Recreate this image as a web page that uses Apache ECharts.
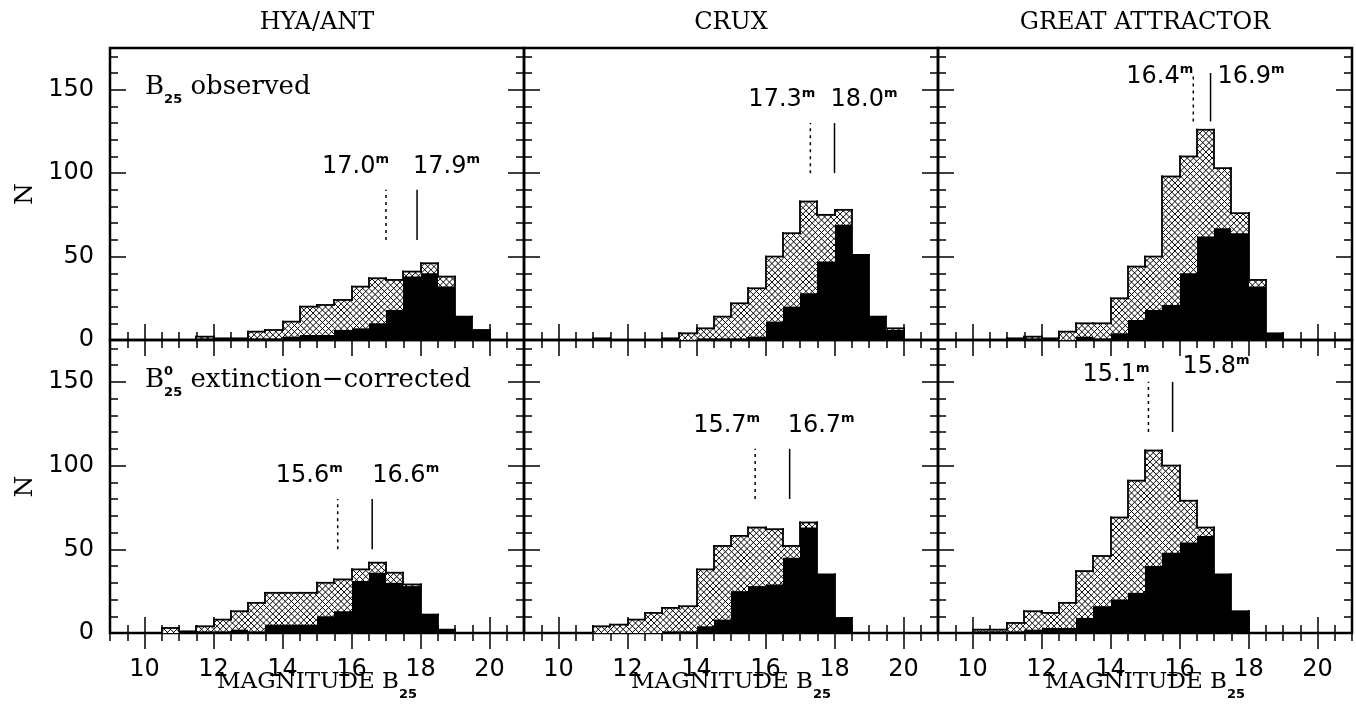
<!DOCTYPE html>
<html><head><meta charset="utf-8">
<script src="https://cdn.jsdelivr.net/npm/echarts@6/dist/echarts.min.js"></script>
<style>html,body{margin:0;padding:0;background:#fff}#c{width:1356px;height:704px}</style>
</head><body><div id="c"></div>
<script>
// ---------------- data ----------------
const binStarts = [9.0,9.5,10.0,10.5,11.0,11.5,12.0,12.5,13.0,13.5,14.0,14.5,15.0,15.5,16.0,16.5,17.0,17.5,18.0,18.5,19.0,19.5,20.0,20.5];
const binWidth = 0.5;
const columns = ['HYA/ANT', 'CRUX', 'GREAT ATTRACTOR'];
const xTickLabels = [10, 12, 14, 16, 18, 20];
const yTickLabels = [0, 50, 100, 150];

// observed B25 (all galaxies = hatched, subset = black)
const hyaObsAll    = [0,0,0,0,0,2,1,1,5,6,11,20,21,24,32,37,36,41,46,38,14,6,0,0];
const hyaObsBlack  = [0,0,0,0,0,1,1,1,1,1,2,3,3,6,7,10,18,38,40,32,14,6,0,0];
const cruxObsAll   = [0,0,0,0,1,0,0,0,1,4,7,14,22,31,50,64,83,75,78,51,14,7,0,0];
const cruxObsBlack = [0,0,0,0,1,0,0,0,1,0,1,1,1,2,11,20,28,47,69,51,14,6,0,0];
const gaObsAll     = [0,0,0,0,1,2,1,5,10,10,25,44,50,98,110,126,103,76,36,4,0,0,0,0];
const gaObsBlack   = [0,0,0,0,1,1,1,0,2,1,4,12,18,21,40,62,67,64,32,4,0,0,0,0];
// extinction-corrected B25^0
const hyaCorAll    = [0,0,0,3,1,4,8,13,18,24,24,24,30,32,38,42,36,29,11,2,0,0,0,0];
const hyaCorBlack  = [0,0,0,0,1,1,1,2,1,5,5,5,10,13,31,36,30,28,11,2,0,0,0,0];
const cruxCorAll   = [0,0,0,0,4,5,8,12,15,16,38,52,58,63,62,52,66,35,9,0,0,0,0,0];
const cruxCorBlack = [0,0,0,0,0,0,0,0,1,1,4,8,25,28,29,45,63,35,9,0,0,0,0,0];
const gaCorAll     = [0,0,2,2,6,13,12,18,37,46,69,91,109,100,79,63,35,13,0,0,0,0,0,0];
const gaCorBlack   = [0,0,1,1,1,2,3,3,9,16,20,24,40,48,54,58,35,13,0,0,0,0,0,0];
// medians [dotted (all), solid (subset)]
const hyaObsMed  = [17.0, 17.9];
const cruxObsMed = [17.3, 18.0];
const gaObsMed   = [16.4, 16.9];
const hyaCorMed  = [15.6, 16.6];
const cruxCorMed = [15.7, 16.7];
const gaCorMed   = [15.1, 15.8];

const panels = [
  {all: hyaObsAll,  black: hyaObsBlack,  med: hyaObsMed},
  {all: cruxObsAll, black: cruxObsBlack, med: cruxObsMed},
  {all: gaObsAll,   black: gaObsBlack,   med: gaObsMed},
  {all: hyaCorAll,  black: hyaCorBlack,  med: hyaCorMed},
  {all: cruxCorAll, black: cruxCorBlack, med: cruxCorMed},
  {all: gaCorAll,   black: gaCorBlack,   med: gaCorMed}
];

// ---------------- layout ----------------
const colLeft = [110, 524, 938], colWidth = 414;
const rowTop = [48, 340], rowHeight = [292, 293];
const markerLayout = [
  {line: [60, 90],   ly: [104, 104], dx: [3, -4]},
  {line: [100, 130], ly: [144, 144], dx: [5, -4]},
  {line: [131, 160], ly: [158, 158], dx: [0, 7]},
  {line: [50, 80],   ly: [94, 94],   dx: [5, 0]},
  {line: [80, 110],  ly: [124, 124], dx: [5, -2]},
  {line: [120, 150], ly: [154, 159], dx: [1, 10]}
];
const HATCH = 6.2;

function hatchSegments(x0, y0, x1, y1, d) {
  const segs = [];
  for (let c = Math.ceil((x0 + y0) / d) * d; c <= x1 + y1; c += d) {
    const xa = Math.max(x0, c - y1), xb = Math.min(x1, c - y0);
    if (xb > xa) segs.push([xa, c - xa, xb, c - xb]);
  }
  for (let c = Math.ceil((x0 - y1) / d) * d; c <= x1 - y0; c += d) {
    const xa = Math.max(x0, y0 + c), xb = Math.min(x1, y1 + c);
    if (xb > xa) segs.push([xa, xa - c, xb, xb - c]);
  }
  return segs;
}

const SERIF = 'DejaVu Serif', SANS = 'DejaVu Sans';
const subRich = {
  a: {fontFamily: SERIF, fontSize: 23, color: '#000', lineHeight: 40},
  s: {fontFamily: SANS, fontSize: 13, fontWeight: 'bold', color: '#000', lineHeight: 14, padding: [26, 0, 0, 0], verticalAlign: 'top'}
};
const supRich = {
  n: {fontFamily: SANS, fontSize: 24, fill: '#000', color: '#000', lineHeight: 26},
  m: {fontFamily: SANS, fontSize: 13, fontWeight: 'bold', fill: '#000', color: '#000', lineHeight: 12, verticalAlign: 'top'}
};

const grids = [], xAxes = [], yAxes = [], series = [];
const tickStyle = {color: '#000', width: 1.5};

panels.forEach((p, i) => {
  const row = Math.floor(i / 3), col = i % 3;
  grids.push({left: colLeft[col], top: rowTop[row], width: colWidth, height: rowHeight[row],
    containLabel: false, outerBoundsMode: 'none',
    show: true, borderColor: '#000', borderWidth: 2.5, backgroundColor: 'rgba(0,0,0,0)'});
  const bx = xAxes.length, by = yAxes.length;
  const xb = {gridIndex: i, type: 'value', min: 9, max: 21, axisLine: {show: false}, splitLine: {show: false}};
  xAxes.push(Object.assign({}, xb, {position: 'bottom',
    axisTick: {show: true, inside: true, length: 16, customValues: xTickLabels, lineStyle: tickStyle},
    axisLabel: {show: row === 1, customValues: xTickLabels, margin: 16, verticalAlign: 'top', padding: [9, 0, 0, 0],
      fontFamily: SANS, fontSize: 24, color: '#000'},
    name: row === 1 ? '{a|MAGNITUDE B}{s|25}' : '', nameLocation: 'middle', nameGap: 29, nameMoveOverlap: false,
    nameTextStyle: {rich: subRich}}));
  xAxes.push(Object.assign({}, xb, {position: 'bottom', interval: 0.5,
    axisTick: {show: true, inside: true, length: 8, lineStyle: tickStyle}, axisLabel: {show: false}}));
  xAxes.push(Object.assign({}, xb, {position: 'top',
    axisTick: {show: true, inside: true, length: 16, customValues: xTickLabels, lineStyle: tickStyle}, axisLabel: {show: false}}));
  xAxes.push(Object.assign({}, xb, {position: 'top', interval: 0.5,
    axisTick: {show: true, inside: true, length: 8, lineStyle: tickStyle}, axisLabel: {show: false}}));

  const yb = {gridIndex: i, type: 'value', min: 0, max: 175, axisLine: {show: false}, splitLine: {show: false}};
  yAxes.push(Object.assign({}, yb, {position: 'left',
    axisTick: {show: true, inside: true, length: 16, customValues: yTickLabels, lineStyle: tickStyle},
    axisLabel: {show: col === 0, customValues: yTickLabels, margin: 16, fontFamily: SANS, fontSize: 24, color: '#000'},
    name: col === 0 ? 'N' : '', nameLocation: 'middle', nameRotate: 90, nameGap: 72, nameMoveOverlap: false,
    nameTextStyle: {fontFamily: SERIF, fontSize: 25, color: '#000'}}));
  yAxes.push(Object.assign({}, yb, {position: 'left', interval: 10,
    axisTick: {show: true, inside: true, length: 8, lineStyle: tickStyle}, axisLabel: {show: false}}));
  yAxes.push(Object.assign({}, yb, {position: 'right',
    axisTick: {show: true, inside: true, length: 16, customValues: yTickLabels, lineStyle: tickStyle}, axisLabel: {show: false}}));
  yAxes.push(Object.assign({}, yb, {position: 'right', interval: 10,
    axisTick: {show: true, inside: true, length: 8, lineStyle: tickStyle}, axisLabel: {show: false}}));

  // hatched: all galaxies
  series.push({type: 'custom', xAxisIndex: bx, yAxisIndex: by, z: 2, silent: true,
    data: binStarts.map((s, k) => [s, p.all[k]]),
    renderItem: (params, api) => {
      const s = api.value(0), v = api.value(1);
      if (!(v > 0)) return null;
      const a = api.coord([s, 0]), b = api.coord([s + binWidth, v]);
      const x0 = Math.round(a[0]), x1 = Math.round(b[0]);
      const ch = [{type: 'rect', shape: {x: x0, y: b[1], width: x1 - x0, height: a[1] - b[1]}, style: {fill: '#fff'}}];
      hatchSegments(x0, b[1], x1, a[1], HATCH).forEach(sg => ch.push({type: 'line',
        shape: {x1: sg[0], y1: sg[1], x2: sg[2], y2: sg[3]}, style: {stroke: '#000', lineWidth: 1}}));
      return {type: 'group', children: ch};
    }});
  // black: subset
  series.push({type: 'custom', xAxisIndex: bx, yAxisIndex: by, z: 3, silent: true,
    data: binStarts.map((s, k) => [s, p.black[k]]),
    renderItem: (params, api) => {
      const s = api.value(0), v = api.value(1);
      if (!(v > 0)) return null;
      const a = api.coord([s, 0]), b = api.coord([s + binWidth, v]);
      const x0 = Math.round(a[0]), x1 = Math.round(b[0]);
      return {type: 'rect', shape: {x: x0, y: b[1], width: x1 - x0, height: a[1] - b[1]}, style: {fill: '#000'}};
    }});
  // step outline of the total histogram
  series.push({type: 'custom', xAxisIndex: bx, yAxisIndex: by, z: 4, silent: true,
    data: binStarts.map((s, k) => [s, p.all[k], k > 0 ? p.all[k - 1] : 0]),
    renderItem: (params, api) => {
      const s = api.value(0), v = api.value(1), prev = api.value(2);
      if (!(v > 0) && !(prev > 0)) return null;
      const a = api.coord([s, v]), b = api.coord([s + binWidth, v]), c = api.coord([s, prev]);
      const x0 = Math.round(a[0]), x1 = Math.round(b[0]);
      const st = {stroke: '#000', lineWidth: 1.8, lineCap: 'square'};
      const ch = [{type: 'line', shape: {x1: x0, y1: c[1], x2: x0, y2: a[1]}, style: st}];
      if (v > 0) ch.push({type: 'line', shape: {x1: x0, y1: a[1], x2: x1, y2: a[1]}, style: st});
      return {type: 'group', children: ch};
    }});
  // median markers
  const L = markerLayout[i];
  series.push({type: 'custom', xAxisIndex: bx, yAxisIndex: by, z: 5, silent: true,
    data: p.med.map((m, k) => [m, k]),
    renderItem: (params, api) => {
      const x = api.value(0), k = api.value(1);
      const p0 = api.coord([x, L.line[0]]), p1 = api.coord([x, L.line[1]]), pl = api.coord([x, L.ly[k]]);
      return {type: 'group', children: [
        {type: 'line', shape: {x1: p0[0], y1: p0[1], x2: p1[0], y2: p1[1]},
          style: {stroke: '#000', lineWidth: 1.5, lineDash: k === 0 ? [3, 4] : null}},
        {type: 'text', x: pl[0] + L.dx[k], y: pl[1],
          style: {text: '{n|' + x.toFixed(1) + '}{m|m}', rich: supRich, fill: '#000',
            align: k === 0 ? 'right' : 'left', verticalAlign: 'middle'}}
      ]};
    }});
});

const graphics = [];
columns.forEach((t, c) => {
  graphics.push({type: 'text', x: colLeft[c] + colWidth / 2, y: 23,
    style: {text: t, fontFamily: SERIF, fontSize: 24, fill: '#000', align: 'center', verticalAlign: 'middle'}});
});
const labelRich = {
  a: {fontFamily: SERIF, fontSize: 26, fill: '#000', lineHeight: 40},
  s: {fontFamily: SANS, fontSize: 13, fontWeight: 'bold', fill: '#000', lineHeight: 14, padding: [26, 0, 0, 0], verticalAlign: 'top'}
};
graphics.push({type: 'text', x: 145, y: 87,
  style: {text: '{a|B}{s|25}{a| observed}', rich: labelRich, align: 'left', verticalAlign: 'middle'}});
graphics.push({type: 'text', x: 145, y: 380,
  style: {text: '{a|B}{s|25}{a| extinction\u2212corrected}', rich: labelRich, align: 'left', verticalAlign: 'middle'}});
graphics.push({type: 'text', x: 164, y: 372,
  style: {text: '0', fontFamily: SANS, fontSize: 13, fontWeight: 'bold', fill: '#000', align: 'left', verticalAlign: 'middle'}});

const chart = echarts.init(document.getElementById('c'), null, {renderer: 'canvas'});
chart.setOption({
  animation: false,
  backgroundColor: '#fff',
  grid: grids, xAxis: xAxes, yAxis: yAxes, series: series, graphic: graphics
});
</script></body></html>
